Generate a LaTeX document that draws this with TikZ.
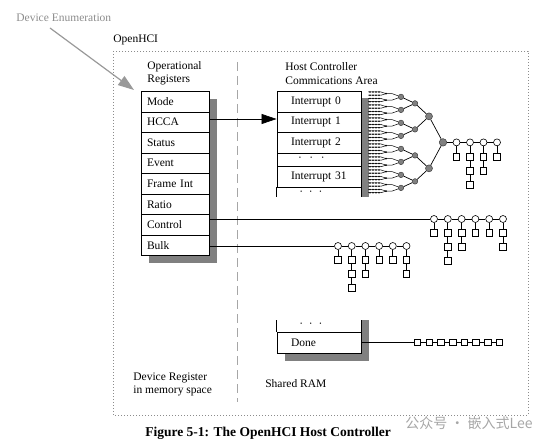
\documentclass[tikz,border=0pt]{standalone}
\usepackage{fontspec}
\setmainfont{Liberation Serif}
\newfontfamily\cjkfont{Noto Sans CJK SC}
\usetikzlibrary{arrows.meta}

\begin{document}
\begin{tikzpicture}[x=1pt, y=-1pt, line width=0.7pt,
    font=\fontsize{11.5}{13.5}\selectfont,
    reg/.style={draw, fill=white, line width=0.9pt, minimum width=68pt, minimum height=20.5pt,
      text width=56pt, inner sep=0pt, align=left},
    hcc/.style={draw, fill=white, line width=0.9pt, minimum width=84pt, text width=56pt,
      inner sep=0pt, align=left},
    tn/.style={circle, draw=black!75, fill=gray, line width=0.5pt, inner sep=0pt, minimum size=5.5pt},
    ed/.style={circle, draw, fill=white, line width=0.6pt, inner sep=0pt, minimum size=7pt},
    td/.style={draw, fill=white, line width=0.6pt, inner sep=0pt, minimum size=6.5pt},
    regshade/.style={fill=black!50},
    lbl/.style={anchor=west, inner sep=0pt, align=left}]
	\useasboundingbox (0,0) rectangle (554,446);

	% frame and separator
	\draw[black!45, line width=0.6pt, dash pattern=on 1pt off 2pt] (113,51) rectangle (528,415);
	\draw[black!35, line width=0.8pt, dash pattern=on 9pt off 5pt] (237,62) -- (237,402);

	\node[lbl, text=black!45] (devenum) at (16,18) {Device Enumeration};
	\coordinate (enumfrom) at (50,28);
	\coordinate (enumtip) at (134,90);
	\draw[black!40, line width=1.2pt, -{Triangle[length=16pt,width=11pt]}] (enumfrom) -- (enumtip);

	\node[lbl] (openhci) at (113,40) {OpenHCI};
	\node[lbl] (opregs) at (147,73.5) {Operational\\Registers};
	\node[lbl] (hccatitle) at (285,73.5) {Host Controller\\Commications Area};
	\node[lbl] (devreg) at (133,384.5) {Device Register\\in memory space};
	\node[lbl] (sharedram) at (265,384) {Shared RAM};

	% shadows
	\fill[regshade] (149,99.5) rectangle (217,263.5);
	\fill[regshade] (361,98) rectangle (369,197);
	\fill[regshade] (361,320) rectangle (369,361);
	\fill[regshade] (285,353) rectangle (369,361);

	% operational registers
	\foreach \lab [count=\i] in {Mode,HCCA,Status,Event,Frame Int,Ratio,Control,Bulk}
		\node[reg] (reg\i) at (175,81.25+20.5*\i) {\lab};

	% communications area
	\fill[white] (277,187) rectangle (361,197);
	\node[hcc, minimum height=21pt] (hcc0) at (319,101.5) {Interrupt 0};
	\node[hcc, minimum height=20pt] (hcc1) at (319,122) {Interrupt 1};
	\node[hcc, minimum height=21pt] (hcc2) at (319,142.5) {Interrupt 2};
	\node[hcc, minimum height=13pt] (hccdots) at (319,159.5) {\hspace{7pt}·~~·~~·};
	\node[hcc, minimum height=21pt] (hcc31) at (319,176.5) {Interrupt 31};
	\draw[line width=0.9pt] (hcc31.south west) -- ++(0,10);
	\draw[line width=0.9pt] (hcc31.south east) -- ++(0,10);
	\node[lbl] (hccmore) at (299,193) {·~~·~~·};

	\coordinate (hccaout) at (209,119);
	\draw[-{Triangle[length=15pt,width=10pt]}] (hccaout) -- (hccaout -| hcc1.west);

	% interrupt tree
	\foreach \j in {0,...,15}
		\coordinate (ta\j) at (386,93.625+6.5*\j);
	\foreach \k in {0,...,7}
		\node[tn] (tb\k) at (401,96.875+13*\k) {};
	\foreach \k in {0,...,3}
		\node[tn] (tc\k) at (415,103.375+26*\k) {};
	\foreach \k in {0,1}
		\node[tn, minimum size=7pt] (td\k) at (429,116.375+52*\k) {};
	\node[tn, minimum size=7.5pt] (i0-0) at (443,142.375) {};

	\foreach \i in {0,...,31}{
		\pgfmathtruncatemacro\j{\i/2}
		\draw[line width=0.5pt] (368,92+3.25*\i) -- (381,92+3.25*\i) -- (ta\j);
		\foreach \x in {370,373,376,379}
			\fill (\x,92+3.25*\i) circle (0.9pt);
	}
	\foreach \j in {0,...,15}{
		\pgfmathtruncatemacro\k{\j/2}
		\fill (ta\j) circle (1pt);
		\draw[line width=0.5pt] (ta\j) -- ++(6,0) -- (tb\k);
	}
	\foreach \k in {0,...,7}{
		\pgfmathtruncatemacro\m{\k/2}
		\draw (tb\k) -- (tc\m);
	}
	\foreach \m in {0,...,3}{
		\pgfmathtruncatemacro\n{\m/2}
		\draw (tc\m) -- (td\n);
	}
	\draw (td0) -- (i0-0) (td1) -- (i0-0);

	% interrupt list
	\foreach \n [count=\k] in {1,3,2,1}{
		\pgfmathtruncatemacro\p{\k-1}
		\node[ed] (i\k-0) at (443+13.5*\k,142.375) {};
		\draw (i\p-0) -- (i\k-0);
		\foreach \m in {1,...,\n}{
			\pgfmathtruncatemacro\q{\m-1}
			\node[td] (i\k-\m) at (443+13.5*\k,142.375+14.2*\m) {};
			\draw (i\k-\q) -- (i\k-\m);
		}
	}

	% control list
	\coordinate (c0-0) at (209,219);
	\foreach \n [count=\k] in {1,3,2,1,1,2}{
		\pgfmathtruncatemacro\p{\k-1}
		\node[ed] (c\k-0) at (420.2+13.8*\k,219) {};
		\draw (c\p-0) -- (c\k-0);
		\foreach \m in {1,...,\n}{
			\pgfmathtruncatemacro\q{\m-1}
			\node[td] (c\k-\m) at (420.2+13.8*\k,219+14*\m) {};
			\draw (c\k-\q) -- (c\k-\m);
		}
	}

	% bulk list
	\coordinate (b0-0) at (209,246);
	\foreach \n [count=\k] in {1,3,2,1,1,2}{
		\pgfmathtruncatemacro\p{\k-1}
		\node[ed] (b\k-0) at (324.3+13.7*\k,246) {};
		\draw (b\p-0) -- (b\k-0);
		\foreach \m in {1,...,\n}{
			\pgfmathtruncatemacro\q{\m-1}
			\node[td] (b\k-\m) at (324.3+13.7*\k,246+14*\m) {};
			\draw (b\k-\q) -- (b\k-\m);
		}
	}

	% done queue
	\fill[white] (277,320) rectangle (361,332);
	\node[hcc, minimum height=21pt] (done) at (319,342.5) {Done};
	\draw[line width=0.9pt] (done.north west) -- ++(0,-12);
	\draw[line width=0.9pt] (done.north east) -- ++(0,-12);
	\node[lbl] (donedots) at (299,325) {·~~·~~·};
	\foreach \k in {1,...,8}
		\node[td] (dn\k) at (405.8+11.7*\k,342.5) {};
	\draw (done.east) -- (dn1);
	\foreach \k in {2,...,8}{
		\pgfmathtruncatemacro\p{\k-1}
		\draw (dn\p) -- (dn\k);
	}

	\node[font=\bfseries\fontsize{13.5}{15}\selectfont] (caption) at (268,433) {Figure 5-1: The OpenHCI Host Controller};
	\node[lbl, text=black!35, font=\cjkfont\fontsize{14}{16}\selectfont] (mark) at (405,423) {公众号 · 嵌入式Lee};
\end{tikzpicture}
\end{document}
